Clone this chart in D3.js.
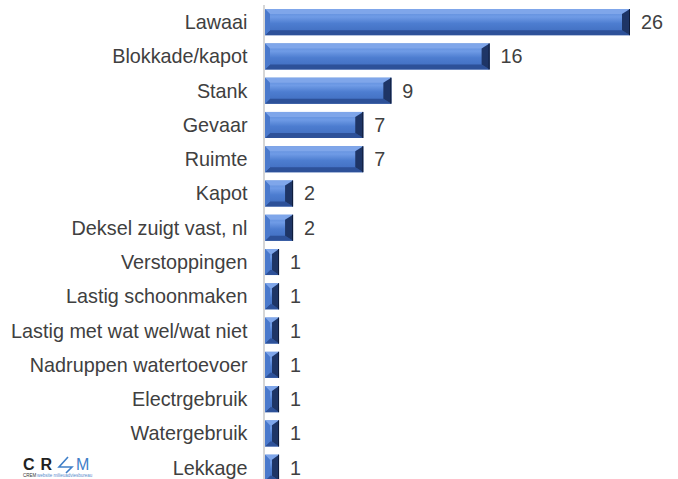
<!DOCTYPE html>
<html><head><meta charset="utf-8">
<script src="https://cdn.jsdelivr.net/npm/d3@7"></script>
<style>body{margin:0;background:#fff}svg{display:block}</style>
</head><body>
<script>
const categories = ["Lawaai","Blokkade/kapot","Stank","Gevaar","Ruimte","Kapot","Deksel zuigt vast, nl","Verstoppingen","Lastig schoonmaken","Lastig met wat wel/wat niet","Nadruppen watertoevoer","Electrgebruik","Watergebruik","Lekkage"];
const values = [26,16,9,7,7,2,2,1,1,1,1,1,1,1];

const W=678,H=479;
const svg=d3.select("body").append("svg").attr("width",W).attr("height",H);
const x0=265;
const x=d3.scaleLinear().domain([0,26]).range([x0,630]);
const y=d3.scaleBand().domain(categories).range([5,484.8]).paddingInner(0.24).paddingOuter(0.12);

const defs=svg.append("defs");
const g=defs.append("linearGradient").attr("id","face").attr("x1",0).attr("y1",0).attr("x2",0).attr("y2",1);
g.append("stop").attr("offset","0").attr("stop-color","#5b8ad8");
g.append("stop").attr("offset","0.3").attr("stop-color","#6f9be6");
g.append("stop").attr("offset","0.55").attr("stop-color","#4d7dd0");
g.append("stop").attr("offset","1").attr("stop-color","#3e6bbd");

svg.append("line").attr("x1",264).attr("x2",264).attr("y1",5).attr("y2",H).attr("stroke","#c8c8c8").attr("stroke-width",1.5);

const bars=svg.selectAll("g.bar").data(categories.map((c,i)=>({c,v:values[i]}))).join("g").attr("class","bar");
bars.each(function(d){
  const sel=d3.select(this);
  const x1=x(0), x2=x(d.v), y1=y(d.c), y2=y1+y.bandwidth();
  const w=x2-x1, h=y2-y1;
  const b=Math.min(5, w/2, h/2);
  const br=Math.min(8,w/2);
  sel.append("rect").attr("x",x1).attr("y",y1).attr("width",w).attr("height",h).attr("fill","url(#face)");
  sel.append("polygon").attr("points",[[x1,y1],[x2,y1],[x2-br,y1+b],[x1+b,y1+b]].join(" ")).attr("fill","#7fa6ea");
  sel.append("polygon").attr("points",[[x1,y2],[x2,y2],[x2-br,y2-b],[x1+b,y2-b]].join(" ")).attr("fill","#2d5199");
  sel.append("polygon").attr("points",[[x1,y1],[x1+b,y1+b],[x1+b,y2-b],[x1,y2]].join(" ")).attr("fill","#4a79cc");
  sel.append("polygon").attr("points",[[x2,y1],[x2-br,y1+b],[x2-br,y2-b],[x2,y2]].join(" ")).attr("fill","#1e3566");
  sel.append("line").attr("x1",x2-0.5).attr("x2",x2-0.5).attr("y1",y1).attr("y2",y2).attr("stroke","#0f1c3a").attr("stroke-width",1);
});

const font="Liberation Sans, Arial, sans-serif";
svg.selectAll("text.cat").data(categories).join("text").attr("class","cat")
  .attr("x",247.5).attr("y",d=>y(d)+y.bandwidth()/2).attr("dy","0.35em")
  .attr("text-anchor","end").attr("font-family",font)
  .attr("font-size",19.8).attr("fill","#404040").text(d=>d);

svg.selectAll("text.val").data(categories.map((c,i)=>({c,v:values[i]}))).join("text").attr("class","val")
  .attr("x",d=>x(d.v)+11).attr("y",d=>y(d.c)+y.bandwidth()/2).attr("dy","0.35em")
  .attr("font-family",font)
  .attr("font-size",19.8).attr("fill","#404040").text(d=>d.v);

const logo=svg.append("g");
logo.append("text").attr("x",23).attr("y",470).attr("font-family",font)
  .attr("font-weight","bold").attr("font-size",16).attr("letter-spacing",6).attr("fill","#222").text("CR");
logo.append("path").attr("d","M68,457 L59,467 L72,467 L66,473").attr("fill","none").attr("stroke","#3f7fc8").attr("stroke-width",1.6);
logo.append("text").attr("x",76).attr("y",470).attr("font-family",font)
  .attr("font-size",16).attr("fill","#3f7fc8").text("M");
logo.append("text").attr("x",23).attr("y",477).attr("font-family",font)
  .attr("font-size",4.5).attr("fill","#333").text("CREM");
logo.append("text").attr("x",37).attr("y",477).attr("font-family",font)
  .attr("font-size",4.5).attr("fill","#5a8ccc").text("website milieuadviesbureau");
</script>
</body></html>
